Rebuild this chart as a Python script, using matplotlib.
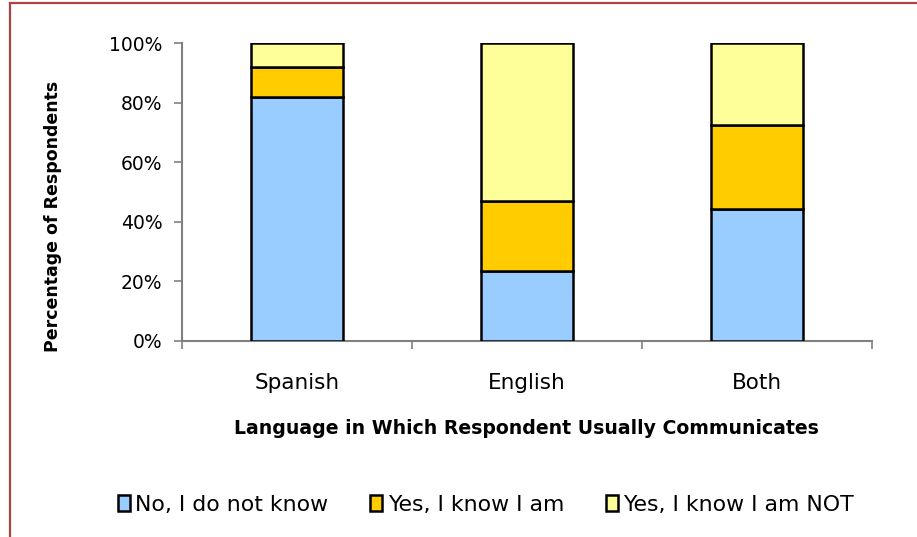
import matplotlib
matplotlib.use("Agg")
import matplotlib.pyplot as plt
from matplotlib.patches import Rectangle
from matplotlib.ticker import PercentFormatter
import numpy as np

categories = ["Spanish", "English", "Both"]
series_names = ["No, I do not know", "Yes, I know I am", "Yes, I know I am NOT"]
no_dont_know = [82.1, 23.5, 44.4]
yes_know_am = [9.9, 23.6, 28.2]
yes_know_not = [8.0, 52.9, 27.4]
y_ticks = [0, 20, 40, 60, 80, 100]
colors = ["#99CCFF", "#FFCC00", "#FFFF99"]

plt.rcParams['font.family'] = ['DejaVu Sans']

fig = plt.figure(figsize=(9.17, 5.37), dpi=100)
ax = fig.add_axes([182/917, 1-341/537, (871.7-182)/917, (341-43.3)/537])

x = np.arange(len(categories))
bottom = np.zeros(len(categories))
handles = []
for vals, name, c in zip([no_dont_know, yes_know_am, yes_know_not], series_names, colors):
    b = ax.bar(x, vals, width=0.4, bottom=bottom, color=c, edgecolor="black",
               linewidth=1.8, label=name, zorder=3)
    handles.append(b)
    bottom += np.array(vals)

ax.set_xlim(-0.5, 2.5)
ax.set_ylim(0, 100)
ax.set_yticks(y_ticks)
ax.yaxis.set_major_formatter(PercentFormatter(decimals=0))
ax.set_xticks(x)
ax.set_xticklabels(categories)
ax.set_xticks([-0.5, 0.5, 1.5, 2.5], minor=True)

for s in ["top", "right"]:
    ax.spines[s].set_visible(False)
for s in ["left", "bottom"]:
    ax.spines[s].set_color("#808080")
    ax.spines[s].set_linewidth(1.5)

ax.tick_params(axis="y", which="major", direction="out", length=6, width=1.2,
               color="#808080", labelsize=13.5, pad=8)
ax.tick_params(axis="x", which="major", length=0, labelsize=15.5, pad=23)
ax.tick_params(axis="x", which="minor", direction="out", length=6, width=1.2,
               color="#808080")

ax.set_ylabel("Percentage of Respondents", fontsize=12.5, fontweight="bold")
ax.yaxis.set_label_coords(-0.174, 0.42)
ax.set_xlabel("Language in Which Respondent Usually Communicates", fontsize=13.6,
              fontweight="bold", labelpad=19)

leg = fig.legend(handles=handles, labels=series_names, loc="center",
                 bbox_to_anchor=(486/917, 1-505/537), ncol=3, frameon=False,
                 fontsize=15.8, handlelength=0.55, handleheight=0.75,
                 handletextpad=0.25, columnspacing=1.9)

fig.patches.append(Rectangle((10/917, -0.1), 1.2, 1.1 - 3/537,
                             transform=fig.transFigure, fill=False,
                             edgecolor="#A94442", linewidth=1.6))

fig.savefig("out.png", dpi=100)
